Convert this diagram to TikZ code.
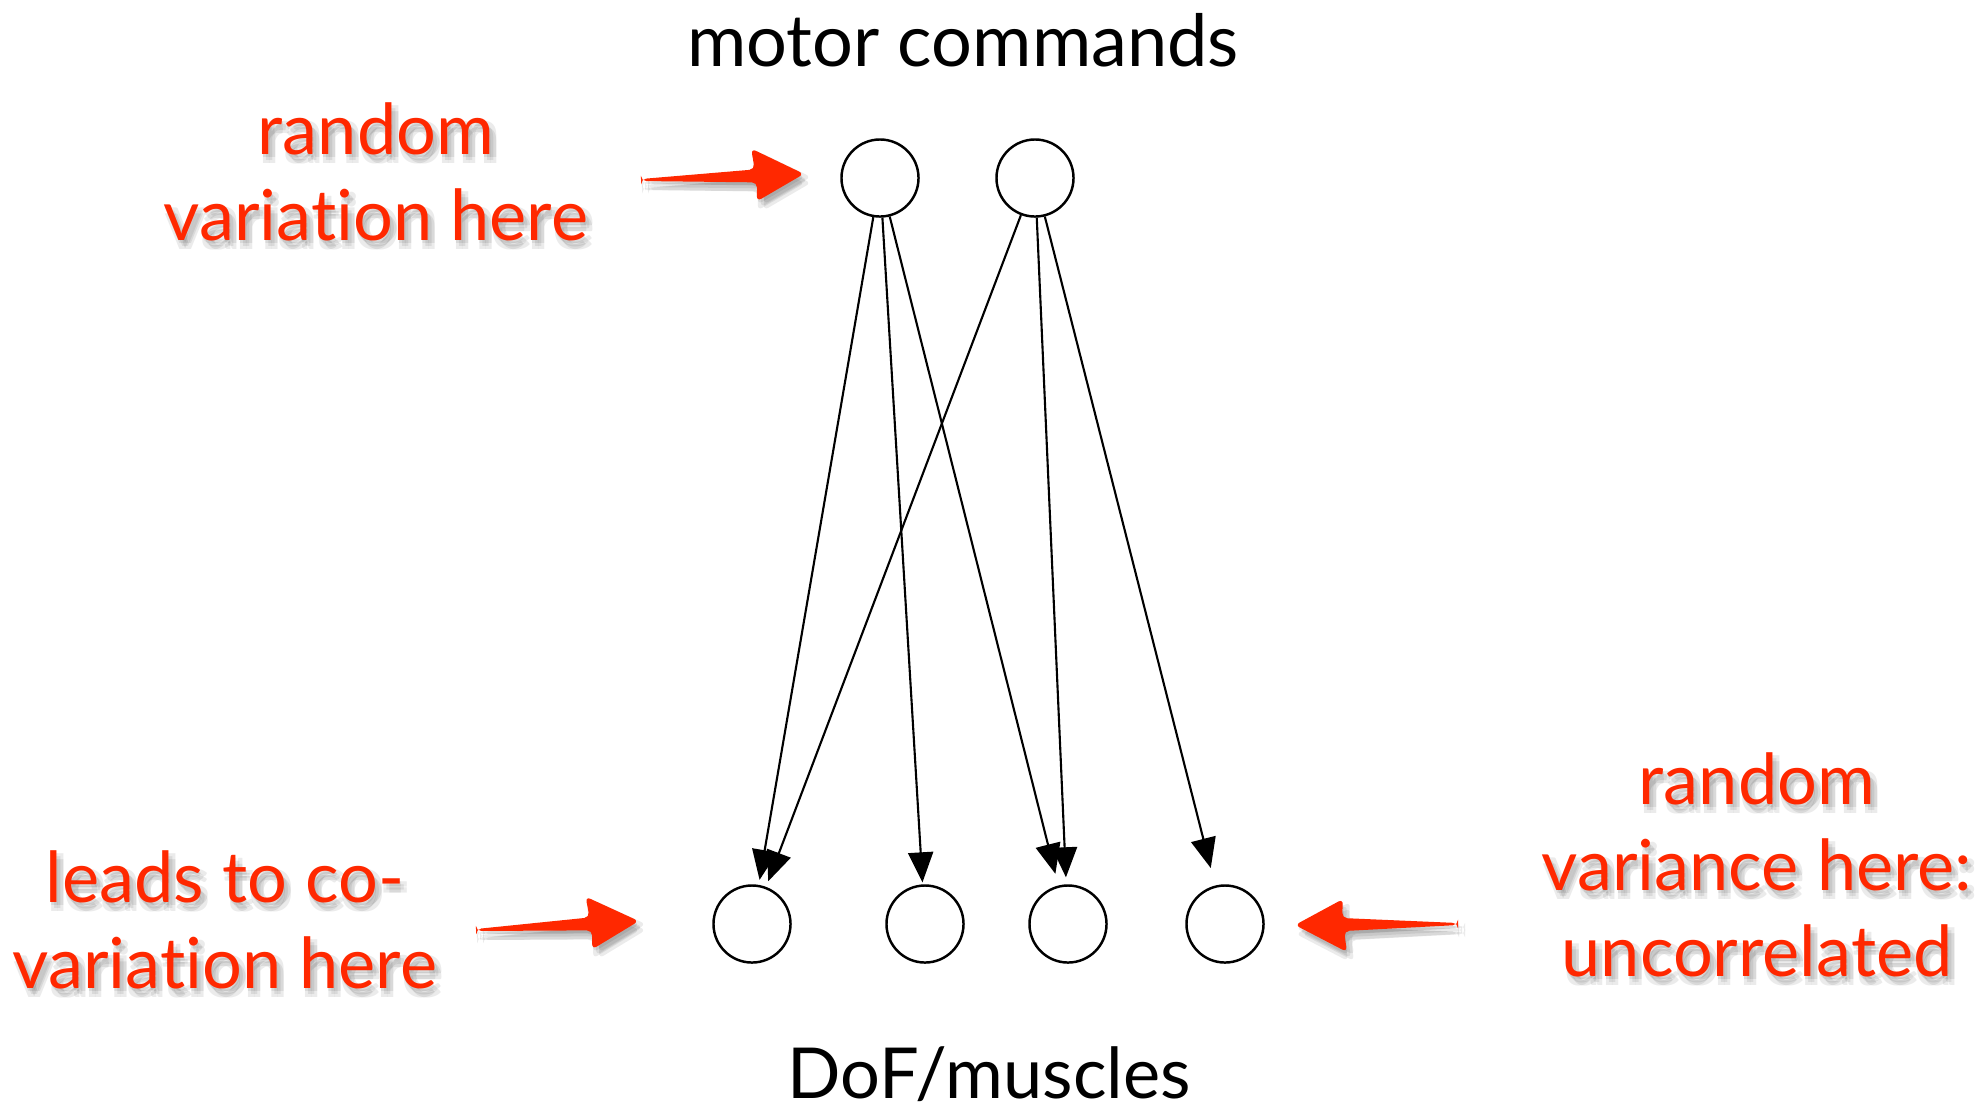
\documentclass[tikz,border=0pt]{standalone}
\usepackage{fontspec}
\setmainfont{Lato}[Ligatures=NoCommon]
\usetikzlibrary{arrows.meta,calc}
\definecolor{notered}{RGB}{255,40,0}

% outline of one brush arrow, tail at the origin, pointing along +x
\def\brushpath{(0,0) -- (114,-6) -- (111,-27) -- (163,0) -- (115,26) -- (116,7) -- (0,2) -- cycle}
% red note with a soft drop shadow
\def\shadownote(#1)(#2)#3{%
  \foreach \dx/\dy [count=\k] in {1/3,7/3,4/6,1/9,7/9}
    \node[note, text=black, text opacity=0.08] (#1-\k) at ($(#2)+(\dx,\dy)$) {#3};
  \node[note] (#1) at (#2) {#3};}
% red arrow with the same shadow
\def\brusharrow(#1)#2{%
  \foreach \dx/\dy in {1/3,7/3,4/6,1/9,7/9}
    \fill[black, opacity=0.08, rounded corners=1.5pt, shift={(#1)}, shift={(\dx,\dy)}, rotate=#2] \brushpath;
  \fill[notered, rounded corners=1.5pt, shift={(#1)}, rotate=#2] \brushpath;}

\begin{document}
\begin{tikzpicture}[x=0.01cm, y=-0.01cm,
    unit/.style={circle, draw, line width=0.7pt, minimum size=7.7mm, inner sep=0pt},
    link/.style={-{Triangle[length=3mm, width=2.5mm]}, line width=0.6pt},
    heading/.style={font=\fontsize{20.5}{25}\selectfont},
    note/.style={text=notered, font=\fontsize{20}{24.5}\selectfont, align=center}]
  \useasboundingbox (0,0) rectangle (1979,1105);

  % commands on top, muscles below
  \node[unit] (m1) at (880,178) {};
  \node[unit] (m2) at (1035,178) {};
  \foreach \x [count=\i] in {752,925,1068,1225}
    \node[unit] (d\i) at (\x,924) {};

  \foreach \s/\t/\gap in {m1/d1/0.5, m1/d2/0.2, m1/d3/1.2, m2/d1/0.6, m2/d3/0.7, m2/d4/1.8}
    \draw[link, shorten >=\gap mm] (\s) -- (\t);

  \node[heading] (cmd) at (963,40) {motor commands};
  \node[heading, font=\fontsize{20}{24}\selectfont] (dof) at (989,1074) {DoF/muscles};

  % red remarks
  \shadownote(topnote)(376,172){random\\variation here}
  \shadownote(leftnote)(225,920){leads to co-\\variation here}
  \shadownote(rightnote)(1757,865){random\\variance here:\\uncorrelated}

  \brusharrow(641,179){1.8}
  \brusharrow(476,929){2.8}
  \brusharrow(1458,925){180}
\end{tikzpicture}
\end{document}
